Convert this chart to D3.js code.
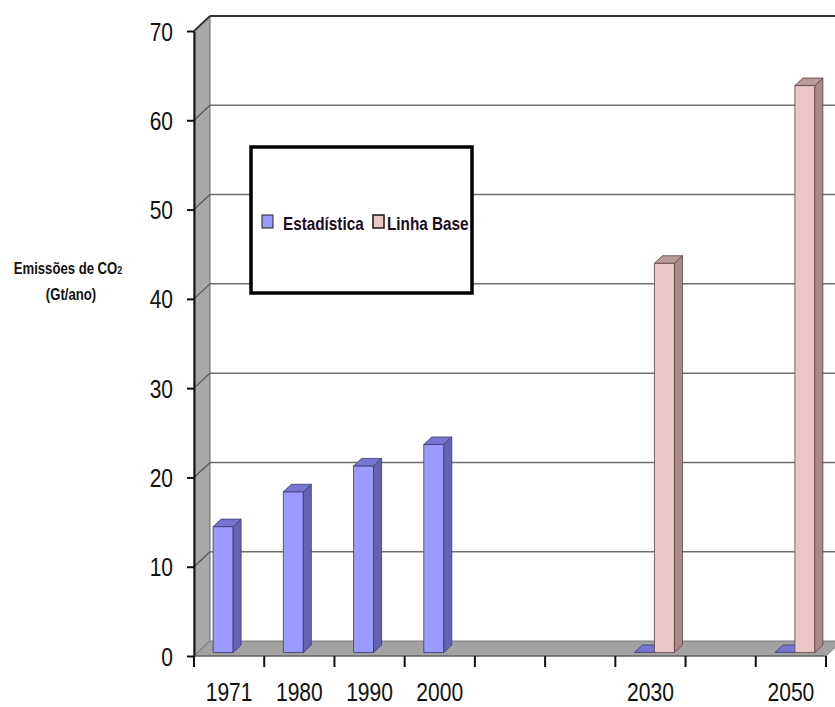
<!DOCTYPE html>
<html>
<head>
<meta charset="utf-8">
<script src="https://cdn.jsdelivr.net/npm/d3@7/dist/d3.min.js"></script>
<style>
  html, body { margin: 0; padding: 0; background: #fff; }
  svg { display: block; }
  text { font-family: "Liberation Sans", Arial, sans-serif; }
</style>
</head>
<body>
<svg id="chart" width="835" height="707"></svg>
<script>
// Categories along the bottom (empty slots are spacer years without data)
const categories = ["1971", "1980", "1990", "2000", "", "", "2030", "", "2050"];
// CO2 emissions in Gt/year
const estadistica = [14.1, 18.0, 20.9, 23.3, null, null, 0, null, 0];
const linhaBase   = [null, null, null, null, null, null, 43.6, null, 63.5];
const yTicks = [0, 10, 20, 30, 40, 50, 60, 70];
const seriesNames = ["Estadística", "Linha Base"];

const svg = d3.select("#chart");

// oblique 3D depth of the plot box
const DX = 16, DY = -15;
// bar depth, and offset of the bar row from the front edge of the floor
const BDX = 8, BDY = -7.5, BOX = 4, BOY = -3.5;

const y = d3.scaleLinear().domain([0, 70]).range([656, 31]);
const x = d3.scaleBand().domain(d3.range(categories.length)).range([194, 826]).padding(0);
const left = 194, right = 826, y0 = y(0);

// left wall
svg.append("polygon")
  .attr("points", [[left, y0], [left, y(70)], [left + DX, y(70) + DY], [left + DX, y0 + DY]].join(" "))
  .attr("fill", "#a8a8a8").attr("stroke", "#6a6a6a").attr("stroke-width", 1);

// floor
svg.append("polygon")
  .attr("points", [[left, y0], [right, y0], [right + DX, y0 + DY], [left + DX, y0 + DY]].join(" "))
  .attr("fill", "#a2a2a2").attr("stroke", "#7a7a7a").attr("stroke-width", 1);

// gridlines on the back wall and across the left wall
const grid = svg.append("g");
yTicks.filter(v => v > 0).forEach(v => {
  const top = v === 70;
  grid.append("line")
    .attr("x1", left + DX).attr("x2", right + DX + 20)
    .attr("y1", y(v) + DY).attr("y2", y(v) + DY)
    .attr("stroke", top ? "#333" : "#6e6e6e").attr("stroke-width", top ? 2 : 1.5);
  grid.append("line")
    .attr("x1", left).attr("x2", left + DX)
    .attr("y1", y(v)).attr("y2", y(v) + DY)
    .attr("stroke", top ? "#333" : "#555").attr("stroke-width", top ? 1.8 : 1.3);
});

// bars
const colors = [
  { front: "#9a9aff", side: "#6464ae", top: "#7676d2", edge: "#3a3a70" },
  { front: "#ecc6c6", side: "#a88a8a", top: "#b99a9a", edge: "#5a4444" }
];
const barW = 20;
const bars = svg.append("g");
[estadistica, linhaBase].forEach((vals, s) => {
  vals.forEach((v, i) => {
    if (v === null) return;
    const c = x(i) + x.bandwidth() / 2 + BOX;
    const xa = c - barW + s * barW, xb = xa + barW;
    const base = y0 + BOY;
    const topY = base - (y0 - y(v));
    const col = colors[s];
    const g = bars.append("g").attr("stroke", col.edge).attr("stroke-width", 0.8).attr("stroke-linejoin", "round");
    if (v > 0) {
      g.append("rect").attr("x", xa).attr("y", topY).attr("width", barW).attr("height", base - topY)
        .attr("fill", col.front);
      g.append("polygon")
        .attr("points", [[xb, base], [xb, topY], [xb + BDX, topY + BDY], [xb + BDX, base + BDY]].join(" "))
        .attr("fill", col.side);
    }
    g.append("polygon")
      .attr("points", [[xa, topY], [xb, topY], [xb + BDX, topY + BDY], [xa + BDX, topY + BDY]].join(" "))
      .attr("fill", col.top);
  });
});

// y axis
const yAxis = svg.append("g").attr("transform", `translate(${left},0)`)
  .call(d3.axisLeft(y).tickValues(yTicks).tickSize(7).tickSizeOuter(0).tickFormat(d3.format("d")));
yAxis.select(".domain").attr("stroke", "#111").attr("stroke-width", 2);
yAxis.selectAll(".tick line").attr("stroke", "#111").attr("stroke-width", 2);
yAxis.selectAll(".tick text")
  .attr("font-size", 25).attr("fill", "#111")
  .attr("x", -21 / 0.84).attr("dy", "0.36em")
  .attr("transform", "scale(0.84,1)");

// x axis: base line, boundary ticks and centred year labels
svg.append("line").attr("x1", left).attr("x2", right).attr("y1", y0).attr("y2", y0)
  .attr("stroke", "#555").attr("stroke-width", 1.2);
svg.append("g").selectAll("line").data(d3.range(categories.length + 1)).join("line")
  .attr("x1", i => left + i * x.step()).attr("x2", i => left + i * x.step())
  .attr("y1", y0).attr("y2", y0 + 11)
  .attr("stroke", "#111").attr("stroke-width", 2);
const xAxis = svg.append("g").attr("transform", `translate(0,${y0})`)
  .call(d3.axisBottom(x).tickSize(0).tickFormat(i => categories[i]));
xAxis.select(".domain").remove();
xAxis.selectAll(".tick text")
  .attr("font-size", 26).attr("fill", "#111")
  .attr("y", 0).attr("dy", 0)
  .attr("transform", "translate(0,45) scale(0.81,1)");

// axis title
const title = svg.append("g").attr("font-weight", "bold").attr("fill", "#111");
const t1 = title.append("text").attr("text-anchor", "middle")
  .attr("transform", "translate(68,274) scale(0.82,1)").attr("font-size", 16);
t1.append("tspan").text("Emissões de CO");
t1.append("tspan").attr("font-size", 11).text("2");
title.append("text").attr("text-anchor", "middle")
  .attr("transform", "translate(71,300) scale(0.82,1)").attr("font-size", 16)
  .text("(Gt/ano)");

// legend
const lg = svg.append("g");
lg.append("rect").attr("x", 251).attr("y", 147).attr("width", 221).attr("height", 146)
  .attr("fill", "#fff").attr("stroke", "#000").attr("stroke-width", 3.5);
const items = [
  { sx: 262, tx: 283, col: colors[0].front },
  { sx: 373, tx: 387, col: colors[1].front }
];
items.forEach((it, k) => {
  lg.append("rect").attr("x", it.sx).attr("y", 215).attr("width", 11).attr("height", 13)
    .attr("fill", it.col).attr("stroke", "#222").attr("stroke-width", k === 1 ? 1.6 : 1);
  lg.append("text").attr("transform", `translate(${it.tx},230) scale(0.85,1)`)
    .attr("font-size", 18).attr("font-weight", "bold").attr("fill", "#1c0c1c")
    .text(seriesNames[k]);
});
</script>
</body>
</html>
